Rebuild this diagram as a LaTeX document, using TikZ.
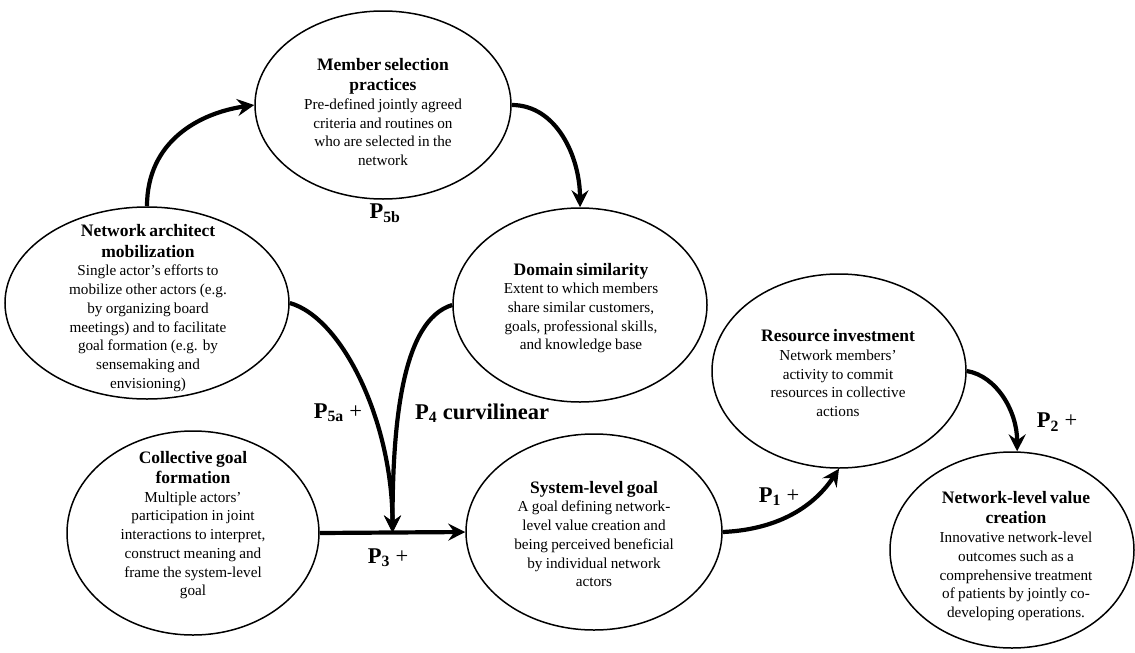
\documentclass[tikz,border=0pt]{standalone}
\usepackage{fontspec}
\setmainfont{Liberation Serif}
\usetikzlibrary{shapes.geometric,arrows.meta,calc}
\newcommand\ttl{\fontsize{17.5}{20.5}\selectfont\bfseries}
\newcommand\bdy{\fontsize{15.2}{18.7}\selectfont\mdseries}
\newcommand\lbl{\fontsize{22.5}{26}\selectfont\bfseries}
\begin{document}
\begin{tikzpicture}[x=1pt,y=-1pt,
  oval/.style={draw, shape=ellipse, line width=1.5pt, inner sep=0pt},
  txt/.style={align=center, inner sep=0pt, text width=300pt},
  link/.style={line width=4.2pt, -{Stealth[length=17pt,width=17pt,inset=6pt]}},
  plabel/.style={inner sep=0pt, font=\lbl}]
\useasboundingbox (0,0) rectangle (1135,653);
% ellipses
\node[oval, minimum width=256pt, minimum height=188pt] (msp) at (383,105) {};
\node[oval, minimum width=284pt, minimum height=192pt] (na) at (147,303) {};
\node[oval, minimum width=254pt, minimum height=194pt] (ds) at (580,305) {};
\node[oval, minimum width=254pt, minimum height=194pt] (rsi) at (839,371) {};
\node[oval, minimum width=252pt, minimum height=204pt] (cgf) at (193,533) {};
\node[oval, minimum width=256pt, minimum height=196pt] (slg) at (594,532) {};
\node[oval, minimum width=244pt, minimum height=196pt] (nlv) at (1012,550) {};
% texts
\node[txt] (msp-t) at (383,112) {{\ttl Member selection\\practices\par}\bdy Pre-defined jointly agreed\\criteria and routines on\\who are selected in the\\network\par};
\node[txt] (na-t) at (148,308) {{\ttl Network architect\\mobilization\par}\bdy Single actor's efforts to\\mobilize other actors (e.g.\\by organizing board\\meetings) and to facilitate\\goal formation (e.g. by\\sensemaking and\\envisioning)\par};
\node[txt] (ds-t) at (581,308) {{\ttl Domain similarity\par}\bdy Extent to which members\\share similar customers,\\goals, professional skills,\\and knowledge base\par};
\node[txt] (rsi-t) at (838,373) {{\ttl Resource investment\par}\bdy Network members'\\activity to commit\\resources in collective\\actions\par};
\node[txt] (cgf-t) at (193,525) {{\ttl Collective goal\\formation\par}\bdy Multiple actors'\\participation in joint\\interactions to interpret,\\construct meaning and\\frame the system-level\\goal\par};
\node[txt] (slg-t) at (594,534) {{\ttl System-level goal\par}\bdy A goal defining network-\\level value creation and\\being perceived beneficial\\by individual network\\actors\par};
\node[txt] (nlv-t) at (1016,556) {{\ttl Network-level value\\creation\par}\bdy Innovative network-level\\outcomes such as a\\comprehensive treatment\\of patients by jointly co-\\developing operations.\par};
% junction
\coordinate (j) at ($(cgf.east)!0.5!(slg.west)$);
% connectors
\draw[link] (na.north) .. controls +(0,-65) and +(-55,8) .. (msp.west);
\draw[link] (msp.east) .. controls +(45,0) and +(0,-50) .. (ds.north);
\draw[link] (na.east) .. controls +(53,15) and +(0,-110) .. (j);
\draw[link] (ds.west) .. controls +(-50,15) and +(0,-110) .. (j);
\draw[link] (cgf.east) -- (slg.west);
\draw[link] (slg.east) .. controls +(45,-2) and +(-30,45) .. (rsi.south);
\draw[link] (rsi.east) .. controls +(30,5) and +(0,-40) .. (nlv.87);
% labels
\node[plabel] (p5b) at (385,213) {P\textsubscript{5b}};
\node[plabel] (p5a) at (338,413) {P\textsubscript{5a} {\mdseries +}};
\node[plabel] (p4) at (482,413) {P\textsubscript{4} curvilinear};
\node[plabel] (p3) at (388,558) {P\textsubscript{3} {\mdseries +}};
\node[plabel] (p1) at (779,497) {P\textsubscript{1} {\mdseries +}};
\node[plabel] (p2) at (1057,422) {P\textsubscript{2} {\mdseries +}};
\end{tikzpicture}
\end{document}
